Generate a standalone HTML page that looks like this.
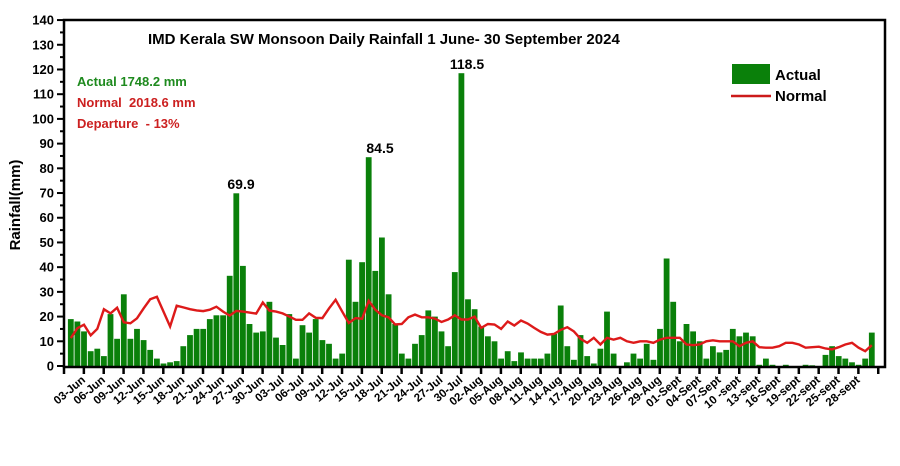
<!DOCTYPE html>
<html><head><meta charset="utf-8"><style>body{margin:0;background:#fff}svg{display:block}text{font-family:"Liberation Sans",Arial,sans-serif;font-weight:bold}</style></head>
<body>
<svg id="s" width="900" height="466" xmlns="http://www.w3.org/2000/svg"></svg>
<script>
const A=[19,18,14,6,7,4,21,11,29,11,15,10.5,6.5,3,1,1.5,2,8,12.5,15,15,19,20.5,20.5,36.5,69.9,40.5,17,13.5,14,
26,11.5,8.5,21,3,16.5,13.5,19,10.5,9,3,5,43,26,42,84.5,38.5,52,29,17,5,3,9,12.5,22.5,20,14,8,38,118.5,27,23,16,12,10,3,6,2,5.5,3,3,3,5,13,24.5,8,2.5,12.5,4,1,7,
22,5,0,1.5,5,3,9,2.5,15,43.5,26,10,17,14,10,3,8,5.5,6.5,15,12,13.5,12,0.5,3,0.5,0,0.5,0,0,0.5,0.3,0,4.5,8,4,3,1.5,0.5,3,13.5];
const N=[11.3,15.3,16.7,12.4,15,23,21.3,23.6,17.7,17.3,19.3,23.3,27,28,22,16,24.4,23.7,23,22.5,22.2,22.8,24,22,20.4,22.3,22,21.6,21.2,25.7,22.4,22,21.3,20,18.7,18.7,21.3,19.5,19.4,23.3,26.8,22,17.4,19.4,19.1,26.4,22.8,20.5,19.7,16.8,17,19.7,20.8,19.7,19.7,19.2,17.8,18.8,20.5,18.8,18.8,20,15.4,17,16.8,15,18,16.4,18.4,17.2,15.4,13.8,12.7,13,14.6,15.7,14,11,9.4,11.4,8.7,11.4,10.7,11.4,10,9.4,10,10,9.4,10.7,11.4,11.4,11.4,8.7,8.4,8.7,10,10.4,10,10,10,8,9.4,10,7.6,7.4,7.4,8,9.4,9.4,8.7,7.4,7.6,7.8,7.1,6.7,7.6,8.7,9.4,7.4,6,8.4];
const Y0=366,K=2.471,X=i=>70.8+6.62*i,Yv=v=>Y0-v*K;
let s='';
for(let i=0;i<A.length;i++){const h=A[i]*K;s+=`<rect x="${(X(i)-2.9).toFixed(1)}" y="${(Y0-h).toFixed(1)}" width="5.8" height="${h.toFixed(1)}" fill="#0a800a"/>`;}
s+=`<polyline fill="none" stroke="#dd1a1a" stroke-width="2.4" points="${N.map((v,i)=>X(i).toFixed(1)+','+Yv(v).toFixed(1)).join(' ')}"/>`;
s+=`<rect x="64" y="20" width="821" height="347" fill="none" stroke="#000" stroke-width="2.5"/>`;
for(let v=0;v<=140;v+=5){const y=Yv(v);s+=`<line x1="${v%10?60:57}" x2="64" y1="${y}" y2="${y}" stroke="#000" stroke-width="2"/>`;if(v%10==0)s+=`<text x="54" y="${y+4.5}" font-size="13" text-anchor="end">${v}</text>`;}
const L=[];const mk=(d,m,n)=>{for(let x=d;x<=n;x+=3)L.push((x<10?'0':'')+x+m);};
mk(3,'-Jun',30);mk(3,'-Jul',30);mk(2,'-Aug',29);
['01-Sept','04-Sept','07-Sept','10 -sept','13-sept','16-Sept','19-sept','22-sept','25-sept','28-sept'].forEach(t=>L.push(t));
for(let k=0;k<=41;k++){const x=64+19.86*k;s+=`<line x1="${x}" x2="${x}" y1="367" y2="374" stroke="#000" stroke-width="2.5"/>`;}
L.forEach((t,k)=>{const x=86+19.86*k;s+=`<text transform="translate(${x},381) rotate(-40)" font-size="11.5" text-anchor="end">${t}</text>`;});
s+=`<text x="148" y="44" font-size="15">IMD Kerala SW Monsoon Daily Rainfall 1 June- 30 September 2024</text>
<text x="77" y="86" font-size="13" fill="#1e8a1e">Actual 1748.2 mm</text>
<text x="77" y="107" font-size="13" fill="#cc2020" xml:space="preserve">Normal  2018.6 mm</text>
<text x="77" y="128" font-size="13" fill="#cc2020" xml:space="preserve">Departure  - 13%</text>
<rect x="732" y="64" width="38" height="20" fill="#0a800a"/><text x="775" y="80" font-size="15">Actual</text>
<line x1="731" x2="771" y1="96" y2="96" stroke="#cc1a1a" stroke-width="2.5"/><text x="775" y="101" font-size="15">Normal</text>
<text x="241" y="189" font-size="14" text-anchor="middle">69.9</text>
<text x="380" y="153" font-size="14" text-anchor="middle">84.5</text>
<text x="467" y="69" font-size="14" text-anchor="middle">118.5</text>
<text transform="translate(20,205) rotate(-90)" font-size="15" text-anchor="middle">Rainfall(mm)</text>`;
document.getElementById('s').innerHTML=s;
</script>
</body></html>
